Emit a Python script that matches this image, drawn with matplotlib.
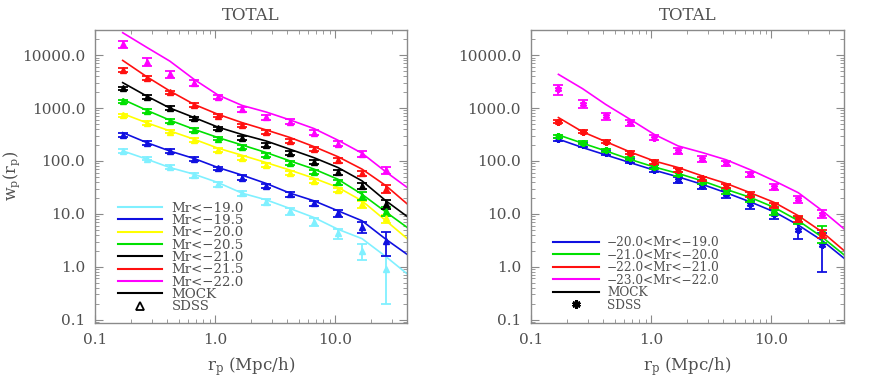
import numpy as np
import matplotlib
matplotlib.use("Agg")
import matplotlib.pyplot as plt
from matplotlib.ticker import FixedLocator, FormatStrFormatter, LogLocator, NullFormatter
from matplotlib.lines import Line2D

# projected separations (Mpc/h)
rp = [0.17, 0.27, 0.42, 0.67, 1.06, 1.68, 2.67, 4.22, 6.70, 10.6, 16.8, 26.6]
# model curves carry one extra node past the right edge
rp_mock = rp + [42.0]

# ---- left panel: luminosity thresholds
left_labels = ["Mr<\u221219.0", "Mr<\u221219.5", "Mr<\u221220.0", "Mr<\u221220.5",
               "Mr<\u221221.0", "Mr<\u221221.5", "Mr<\u221222.0"]
left_colors = ["#80F0FF", "#1010E0", "#FFFF00", "#00E000", "#000000", "#FF1010", "#FF00FF"]

left_sdss = [
    [155, 111, 77, 54, 36, 24.3, 16.8, 11.1, 7.1, 4.3, 2.0, 0.9],
    [309, 222, 154, 108, 72, 48.6, 34, 23.4, 15.8, 10.2, 5.6, 3.1],
    [738, 521, 359, 247, 161, 116, 83, 59, 42, 28.4, 15.3, 8.2],
    [1350, 877, 577, 385, 264, 181, 130, 90.6, 62, 40, 22, 11.4],
    [2350, 1620, 1000, 640, 414, 276, 200, 141, 97, 61, 34, 15.2],
    [5210, 3680, 1980, 1140, 720, 472, 352, 243, 166, 103, 58, 30],
    [16000, 7500, 4330, 3000, 1640, 946, 676, 553, 343, 213, 134, 67],
]
left_err = [
    [12, 9, 8, 6, 4, 3, 2.2, 1.6, 1.3, 0.9, 0.65, 0.7],
    [25, 18, 13, 9, 6, 4.5, 3.2, 2.4, 1.9, 1.5, 1.3, 1.5],
    [50, 40, 28, 20, 13, 10, 7, 5, 4, 3, 2.2, 1.4],
    [90, 65, 45, 30, 20, 15, 11, 8, 6, 4.5, 3.5, 2.2],
    [160, 120, 75, 50, 32, 22, 16, 12, 9, 6, 4.5, 2.8],
    [380, 270, 150, 90, 55, 38, 28, 20, 15, 10, 7, 5],
    [2500, 1200, 600, 400, 160, 100, 70, 55, 35, 25, 17, 11],
]
left_mock = [
    [155, 108, 75, 56, 39, 24.6, 18.4, 12.6, 8.5, 5.1, 3.4, 1.55, 0.67],
    [343, 222, 154, 111, 75, 54, 37.5, 24.6, 17.6, 11.4, 7.4, 3.3, 1.58],
    [784, 525, 370, 257, 174, 128, 93, 67, 47, 31.6, 17.6, 7.4, 3.1],
    [1460, 905, 590, 396, 276, 200, 144, 100, 70, 45, 23.4, 10.8, 5.1],
    [3020, 1680, 1000, 660, 435, 316, 238, 166, 115, 75, 42, 17.6, 8.2],
    [7940, 3900, 2100, 1170, 760, 530, 385, 277, 186, 120, 70, 34, 14],
    [26500, 14000, 7700, 3470, 1760, 1120, 840, 595, 408, 246, 140, 62, 29],
]

# ---- right panel: luminosity bins
right_labels = ["\u221220.0<Mr<\u221219.0", "\u221221.0<Mr<\u221220.0",
                "\u221222.0<Mr<\u221221.0", "\u221223.0<Mr<\u221222.0"]
right_colors = ["#1010E0", "#00E000", "#FF1010", "#FF00FF"]

right_sdss = [
    [258, 200, 140, 100, 67, 44, 33, 23.5, 15.2, 9.9, 5.0, 2.6],
    [296, 222, 158, 112, 77, 56, 40, 27, 19.5, 11.4, 7.6, 4.3],
    [547, 359, 232, 144, 96, 67, 46.6, 34, 23, 14.6, 8.0, 4.2],
    [2250, 1210, 705, 531, 276, 154, 108, 90, 56, 32.5, 19, 10],
]
right_err = [
    [18, 15, 12, 9, 6, 5, 4, 3.2, 2.6, 2.0, 1.6, 1.8],
    [20, 16, 12, 9, 6, 5, 4, 3, 2.5, 1.8, 1.3, 1.5],
    [35, 25, 16, 10, 7, 5, 4, 3, 2.4, 1.6, 1.0, 0.7],
    [450, 220, 110, 75, 30, 20, 14, 11, 7, 4.5, 3, 1.8],
]
right_mock = [
    [258, 179, 130, 93, 67, 50, 36, 25, 16.8, 10.9, 6.1, 3.1, 1.34],
    [310, 216, 155, 107, 77, 58, 42, 29, 20.4, 13.2, 7.4, 3.6, 1.55],
    [660, 355, 232, 148, 100, 75, 52, 37.5, 25, 16.4, 9.2, 4.5, 1.86],
    [4330, 2320, 1170, 612, 319, 192, 144, 105, 68, 42, 25, 11.4, 4.8],
]

TEXT = "#505050"
AXC = "#8a8a8a"
plt.rcParams["font.family"] = ["DejaVu Serif"]
plt.rcParams["mathtext.fontset"] = "dejavuserif"


def style_axes(ax):
    ax.set_xscale("log")
    ax.set_yscale("log")
    ax.set_xlim(0.1, 40)
    ax.set_ylim(0.087, 30000)
    ax.xaxis.set_major_locator(FixedLocator([0.1, 1.0, 10.0]))
    ax.yaxis.set_major_locator(FixedLocator([0.1, 1.0, 10.0, 100.0, 1000.0, 10000.0]))
    ax.xaxis.set_minor_locator(LogLocator(base=10, subs=np.arange(2, 10)))
    ax.yaxis.set_minor_locator(LogLocator(base=10, subs=np.arange(2, 10)))
    ax.xaxis.set_minor_formatter(NullFormatter())
    ax.yaxis.set_minor_formatter(NullFormatter())
    ax.xaxis.set_major_formatter(FormatStrFormatter("%.1f"))
    ax.yaxis.set_major_formatter(FormatStrFormatter("%.1f"))
    ax.tick_params(which="both", direction="in", top=True, right=True,
                   color=AXC, labelcolor=TEXT, labelsize=11)
    ax.tick_params(which="major", length=6, width=0.8, pad=7)
    ax.tick_params(which="minor", length=3, width=0.6)
    for s in ax.spines.values():
        s.set_color(AXC)
        s.set_linewidth(1.0)
    ax.set_title("TOTAL", color=TEXT, fontsize=12, pad=7)
    ax.set_xlabel(r"r$_{\rm p}$ (Mpc/h)", color=TEXT, fontsize=12, labelpad=6)


fig = plt.figure(figsize=(8.72, 3.83), dpi=100)
axl = fig.add_axes([0.109, 0.157, 0.358, 0.765])
axr = fig.add_axes([0.6086, 0.157, 0.359, 0.765])

# left panel
for i in range(len(left_labels)):
    c = left_colors[i]
    axl.plot(rp_mock, left_mock[i], color=c, lw=1.2)
    axl.errorbar(rp, left_sdss[i], yerr=left_err[i], fmt="^", color=c, ms=5,
                 elinewidth=1.3, capsize=3.5, capthick=1.3, mec=c)
style_axes(axl)
axl.set_ylabel(r"w$_{\rm p}$(r$_{\rm p}$)", color=TEXT, fontsize=11.5)
axl.yaxis.set_label_coords(-0.235, 0.5)

handles = [Line2D([], [], color=c, lw=1.5) for c in left_colors]
handles += [Line2D([], [], color="black", lw=1.5),
            Line2D([], [], ls="none", marker="^", mfc="none", mec="black", ms=6, mew=1.3)]
axl.legend(handles, left_labels + ["MOCK", "SDSS"], loc="upper left",
           bbox_to_anchor=(0.045, 0.445), frameon=False, fontsize=9.6,
           handlelength=3.3, handletextpad=0.7, labelspacing=-0.05,
           borderpad=0.2, labelcolor=TEXT)

# right panel
for i in range(len(right_labels)):
    c = right_colors[i]
    axr.plot(rp_mock, right_mock[i], color=c, lw=1.2)
    axr.errorbar(rp, right_sdss[i], yerr=right_err[i], fmt="none", ecolor=c,
                 elinewidth=1.3, capsize=3.5, capthick=1.3)
    axr.plot(rp, right_sdss[i], ls="none", marker=(6, 2, 0), color=c, ms=5, mew=1.6)
style_axes(axr)

handles = [Line2D([], [], color=c, lw=1.5) for c in right_colors]
handles += [Line2D([], [], color="black", lw=1.5),
            Line2D([], [], ls="none", marker=(6, 2, 0), color="black", ms=6, mew=2)]
axr.legend(handles, right_labels + ["MOCK", "SDSS"], loc="upper left",
           bbox_to_anchor=(0.045, 0.325), frameon=False, fontsize=8.7,
           handlelength=3.8, handletextpad=0.65, labelspacing=-0.04,
           borderpad=0.2, labelcolor=TEXT)

plt.savefig("out.png", dpi=100)
